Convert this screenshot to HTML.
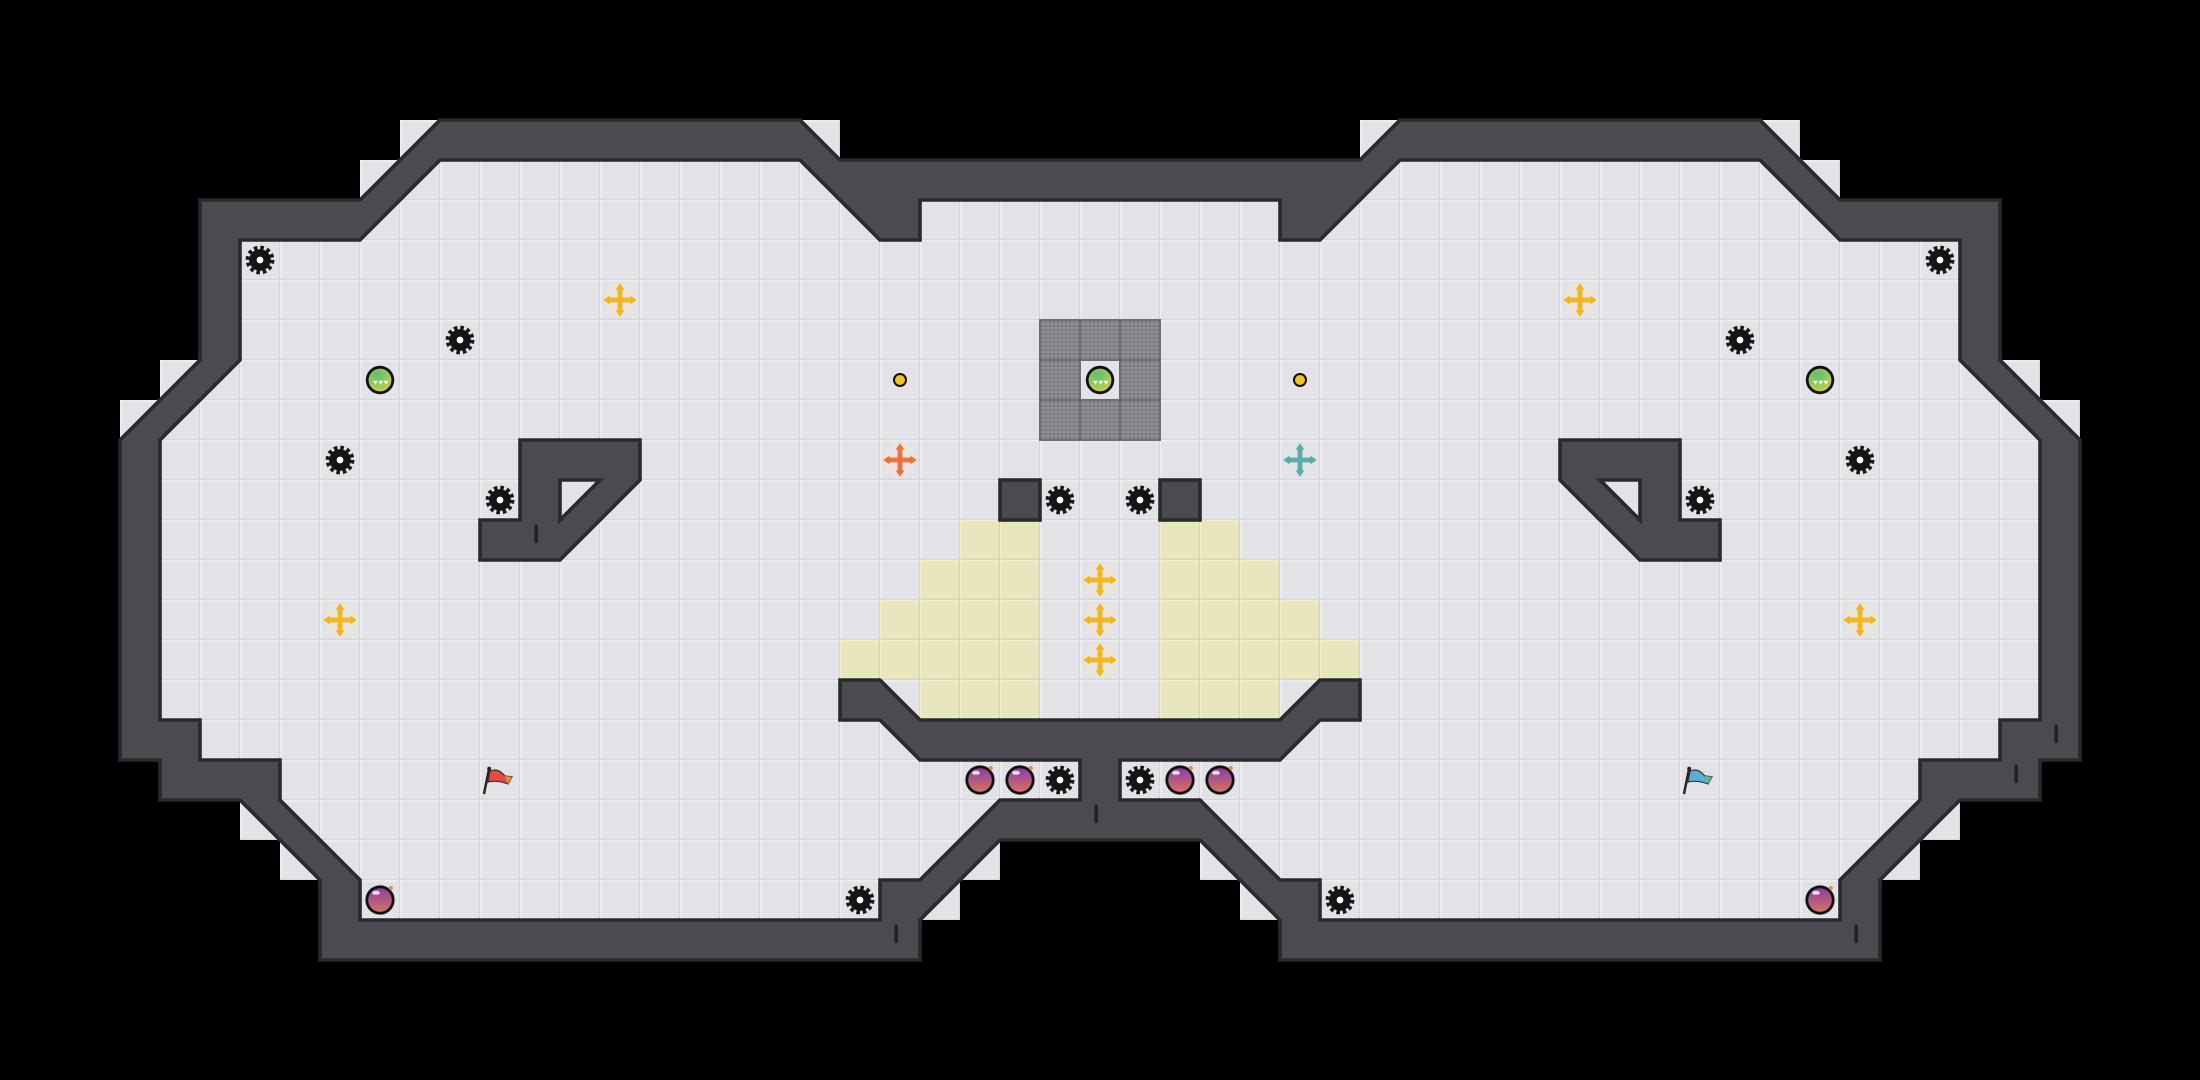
<!DOCTYPE html>
<html><head><meta charset="utf-8"><style>
html,body{margin:0;padding:0;background:#000;}
svg{display:block;}
</style></head><body>
<svg width="2200" height="1080" viewBox="0 0 2200 1080" xmlns="http://www.w3.org/2000/svg">
<defs>
<pattern id="tile" patternUnits="userSpaceOnUse" width="1" height="1">
<rect width="1" height="1" fill="#d6d6db"/>
<rect x="0" y="0" width="0.96" height="0.96" fill="#ededf0"/>
<rect x="0.04" y="0.04" width="0.9" height="0.9" fill="#e3e3e7"/>
</pattern>
<pattern id="ytile" patternUnits="userSpaceOnUse" width="1" height="1">
<rect width="1" height="1" fill="#d9d6a8"/>
<rect x="0" y="0" width="0.96" height="0.96" fill="#f0eecb"/>
<rect x="0.04" y="0.04" width="0.9" height="0.9" fill="#e8e6bc"/>
</pattern>
<pattern id="mesh" patternUnits="userSpaceOnUse" width="0.1" height="0.1">
<rect width="0.1" height="0.1" fill="#8c8c90"/>
<rect x="0.03" y="0.03" width="0.04" height="0.04" fill="#6a6a6e"/>
</pattern>
<radialGradient id="gball" cx="0.4" cy="0.3" r="0.8">
<stop offset="0" stop-color="#5cc070"/><stop offset="1" stop-color="#d8d040"/>
</radialGradient>
<linearGradient id="bomb" x1="0" y1="0" x2="0" y2="1">
<stop offset="0" stop-color="#8a3aa8"/><stop offset="1" stop-color="#d8745c"/>
</linearGradient>
<g id="gear">
<circle r="0.27" fill="#151515"/>
<circle r="0.3" fill="none" stroke="#151515" stroke-width="0.12" stroke-dasharray="0.085 0.072"/>
<circle r="0.085" fill="#fff"/>
</g>
<g id="ycross">
<circle r="0.42" fill="#ece6d6" opacity="0.7"/>
<path d="M-0.3 0H0.3M0 -0.3V0.3" stroke="#f4b51e" stroke-width="0.12"/>
<path d="M0 -0.42L-0.11 -0.26H0.11Z M0 0.42L-0.11 0.26H0.11Z M-0.42 0L-0.26 -0.11V0.11Z M0.42 0L0.26 -0.11V0.11Z" fill="#f4b51e"/>
</g>
<g id="ocross">
<circle r="0.42" fill="#ece6e0" opacity="0.7"/>
<path d="M-0.3 0H0.3M0 -0.3V0.3" stroke="#f0703a" stroke-width="0.12"/>
<path d="M0 -0.42L-0.11 -0.26H0.11Z M0 0.42L-0.11 0.26H0.11Z M-0.42 0L-0.26 -0.11V0.11Z M0.42 0L0.26 -0.11V0.11Z" fill="#f0703a"/>
</g>
<g id="tcross">
<circle r="0.42" fill="#e0e6e6" opacity="0.7"/>
<path d="M-0.3 0H0.3M0 -0.3V0.3" stroke="#5aaab0" stroke-width="0.12"/>
<path d="M0 -0.42L-0.11 -0.26H0.11Z M0 0.42L-0.11 0.26H0.11Z M-0.42 0L-0.26 -0.11V0.11Z M0.42 0L0.26 -0.11V0.11Z" fill="#5aaab0"/>
</g>
<g id="ball">
<circle r="0.32" fill="url(#gball)" stroke="#111" stroke-width="0.07"/>
<path d="M-0.17 0.02L-0.11 0.12L-0.06 0.02Z M-0.04 0.02L0.02 0.12L0.07 0.02Z M0.09 0.02L0.15 0.12L0.2 0.02Z" fill="#fff"/>
</g>
<g id="bombi">
<circle r="0.33" fill="url(#bomb)" stroke="#111" stroke-width="0.07"/>
<ellipse cx="-0.1" cy="-0.18" rx="0.1" ry="0.05" fill="#fff" opacity="0.8"/>
<circle cx="0.27" cy="-0.3" r="0.05" fill="#f08a2a"/>
</g>
<g id="tick"><rect x="0.36" y="0.12" width="0.09" height="0.45" fill="#232326"/></g>
</defs>
<rect width="2200" height="1080" fill="#000"/>
<g transform="scale(40)">
<!-- patch cells -->
<g fill="url(#tile)">
<rect x="10" y="3" width="1" height="1"/><rect x="9" y="4" width="1" height="1"/>
<rect x="4" y="9" width="1" height="1"/><rect x="3" y="10" width="1" height="1"/>
<rect x="6" y="20" width="1" height="1"/><rect x="7" y="21" width="1" height="1"/>
<rect x="20" y="3" width="1" height="1"/><rect x="24" y="21" width="1" height="1"/><rect x="23" y="22" width="1" height="1"/>
<rect x="44" y="3" width="1" height="1"/><rect x="45" y="4" width="1" height="1"/>
<rect x="50" y="9" width="1" height="1"/><rect x="51" y="10" width="1" height="1"/>
<rect x="48" y="20" width="1" height="1"/><rect x="47" y="21" width="1" height="1"/>
<rect x="34" y="3" width="1" height="1"/><rect x="30" y="21" width="1" height="1"/><rect x="31" y="22" width="1" height="1"/>
</g>
<!-- floor -->
<polygon fill="url(#tile)" points="11,4 20,4 22,6 23,6 23,5 32,5 32,6 33,6 35,4 44,4 46,6 49,6 49,9 51,11 51,18 50,18 50,19 48,19 48,20 46,22 46,23 33,23 33,22 32,22 30,20 28,20 28,19 32,19 33,18 34,18 34,17 33,17 32,18 23,18 22,17 21,17 21,18 22,18 23,19 27,19 27,20 25,20 23,22 22,22 22,23 9,23 9,22 7,20 7,19 5,19 5,18 4,18 4,11 6,9 6,6 9,6"/>
<!-- yellow -->
<g fill="url(#ytile)">
<rect x="24" y="13" width="2" height="1"/><rect x="23" y="14" width="3" height="1"/><rect x="22" y="15" width="4" height="1"/><rect x="21" y="16" width="5" height="1"/><rect x="23" y="17" width="3" height="1"/>
<rect x="29" y="13" width="2" height="1"/><rect x="29" y="14" width="3" height="1"/><rect x="29" y="15" width="4" height="1"/><rect x="29" y="16" width="5" height="1"/><rect x="29" y="17" width="3" height="1"/>
</g>
<!-- mesh -->
<g stroke="#6e6e72" stroke-width="0.05">
<rect x="26" y="8" width="1" height="1" fill="url(#mesh)"/><rect x="27" y="8" width="1" height="1" fill="url(#mesh)"/><rect x="28" y="8" width="1" height="1" fill="url(#mesh)"/>
<rect x="26" y="9" width="1" height="1" fill="url(#mesh)"/><rect x="28" y="9" width="1" height="1" fill="url(#mesh)"/>
<rect x="26" y="10" width="1" height="1" fill="url(#mesh)"/><rect x="27" y="10" width="1" height="1" fill="url(#mesh)"/><rect x="28" y="10" width="1" height="1" fill="url(#mesh)"/>
</g>
<!-- walls -->
<g fill="#4a4a50" stroke="#2a2a2e" stroke-width="0.09" stroke-linejoin="miter" fill-rule="evenodd">
<path d="M11,3 L20,3 L21,4 L34,4 L35,3 L44,3 L46,5 L50,5 L50,9 L52,11 L52,19 L51,19 L51,20 L49,20 L47,22 L47,24 L32,24 L32,23 L30,21 L25,21 L23,23 L23,24 L8,24 L8,22 L6,20 L4,20 L4,19 L3,19 L3,11 L5,9 L5,5 L9,5 Z
M11,4 L20,4 L22,6 L23,6 L23,5 L32,5 L32,6 L33,6 L35,4 L44,4 L46,6 L49,6 L49,9 L51,11 L51,18 L50,18 L50,19 L48,19 L48,20 L46,22 L46,23 L33,23 L33,22 L32,22 L30,20 L28,20 L28,19 L32,19 L33,18 L34,18 L34,17 L33,17 L32,18 L23,18 L22,17 L21,17 L21,18 L22,18 L23,19 L27,19 L27,20 L25,20 L23,22 L22,22 L22,23 L9,23 L9,22 L7,20 L7,19 L5,19 L5,18 L4,18 L4,11 L6,9 L6,6 L9,6 Z"/>
<path d="M13,11 L16,11 L16,12 L14,14 L12,14 L12,13 L13,13 Z M14,12 L15,12 L14,13 Z"/>
<path d="M42,11 L39,11 L39,12 L41,14 L43,14 L43,13 L42,13 Z M41,12 L40,12 L41,13 Z"/>
<rect x="25" y="12" width="1" height="1"/>
<rect x="29" y="12" width="1" height="1"/>
</g>
<!-- ticks -->
<use href="#tick" x="13" y="13"/>
<use href="#tick" x="22" y="23"/>
<use href="#tick" x="27" y="20"/>
<use href="#tick" x="46" y="23"/>
<use href="#tick" x="50" y="19"/>
<use href="#tick" x="51" y="18"/>
<!-- gears -->
<g>
<use href="#gear" x="6.5" y="6.5"/><use href="#gear" x="11.5" y="8.5"/><use href="#gear" x="8.5" y="11.5"/><use href="#gear" x="12.5" y="12.5"/>
<use href="#gear" x="26.5" y="12.5"/><use href="#gear" x="28.5" y="12.5"/><use href="#gear" x="26.5" y="19.5"/><use href="#gear" x="28.5" y="19.5"/>
<use href="#gear" x="21.5" y="22.5"/><use href="#gear" x="33.5" y="22.5"/>
<use href="#gear" x="48.5" y="6.5"/><use href="#gear" x="43.5" y="8.5"/><use href="#gear" x="46.5" y="11.5"/><use href="#gear" x="42.5" y="12.5"/>
</g>
<!-- crosses -->
<use href="#ycross" x="15.5" y="7.5"/><use href="#ycross" x="8.5" y="15.5"/>
<use href="#ycross" x="27.5" y="14.5"/><use href="#ycross" x="27.5" y="15.5"/><use href="#ycross" x="27.5" y="16.5"/>
<use href="#ycross" x="39.5" y="7.5"/><use href="#ycross" x="46.5" y="15.5"/>
<use href="#ocross" x="22.5" y="11.5"/><use href="#tcross" x="32.5" y="11.5"/>
<!-- balls -->
<use href="#ball" x="9.5" y="9.5"/><use href="#ball" x="27.5" y="9.5"/><use href="#ball" x="45.5" y="9.5"/>
<circle cx="22.5" cy="9.5" r="0.15" fill="#f5c21e" stroke="#111" stroke-width="0.05"/>
<circle cx="32.5" cy="9.5" r="0.15" fill="#f5c21e" stroke="#111" stroke-width="0.05"/>
<!-- bombs -->
<use href="#bombi" x="24.5" y="19.5"/><use href="#bombi" x="25.5" y="19.5"/><use href="#bombi" x="29.5" y="19.5"/><use href="#bombi" x="30.5" y="19.5"/>
<use href="#bombi" x="9.5" y="22.5"/><use href="#bombi" x="45.5" y="22.5"/>
<!-- flags -->
<g transform="translate(12,19)">
<line x1="0.22" y1="0.25" x2="0.1" y2="0.85" stroke="#222" stroke-width="0.06"/>
<circle cx="0.23" cy="0.22" r="0.05" fill="#222"/>
<path d="M0.25 0.28 Q0.45 0.18 0.62 0.4 L0.8 0.42 L0.7 0.6 Q0.45 0.5 0.2 0.55 Z" fill="#e84848" stroke="#333" stroke-width="0.03"/>
<path d="M0.62 0.4 L0.8 0.42 L0.7 0.6 Z" fill="#f08a3a"/>
</g>
<g transform="translate(42,19)">
<line x1="0.22" y1="0.25" x2="0.1" y2="0.85" stroke="#222" stroke-width="0.06"/>
<circle cx="0.23" cy="0.22" r="0.05" fill="#222"/>
<path d="M0.25 0.28 Q0.45 0.18 0.62 0.4 L0.8 0.42 L0.7 0.6 Q0.45 0.5 0.2 0.55 Z" fill="#5aaed8" stroke="#333" stroke-width="0.03"/>
<path d="M0.62 0.4 L0.8 0.42 L0.7 0.6 Z" fill="#4cc08a"/>
</g>
</g>
</svg>
</body></html>
